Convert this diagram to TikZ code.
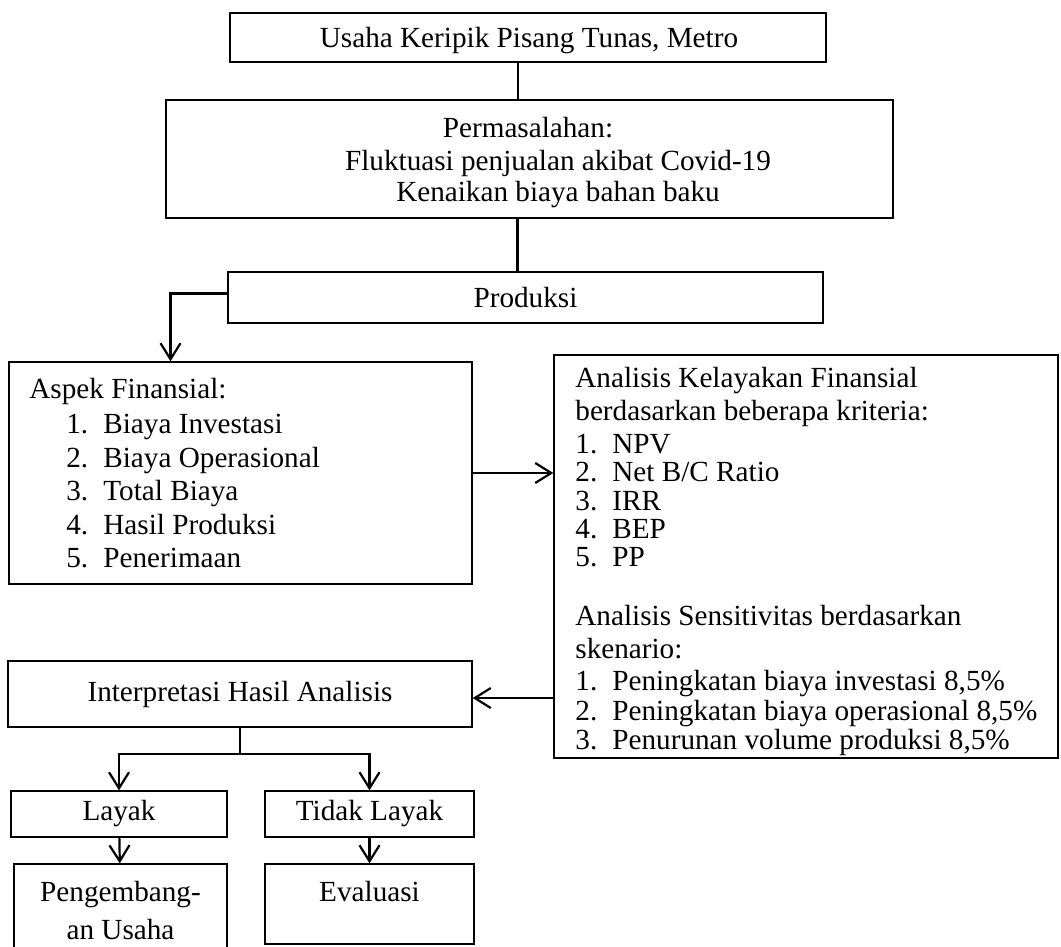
\documentclass[tikz,border=0pt]{standalone}
\usepackage{fontspec}
\setmainfont{Liberation Serif}
\usetikzlibrary{arrows.meta}

\newcommand{\butir}[1]{\makebox[18.5pt][l]{#1}}

\begin{document}
\begin{tikzpicture}[x=0.5pt, y=-0.5pt, >={Straight Barb[length=8pt,width=10pt]},
    box/.style={draw, line width=0.7pt, inner sep=0pt},
    txt/.style={inner sep=0pt},
    conn/.style={line width=1.1pt},
    every node/.append style={font=\fontsize{14.6}{16.75}\selectfont}]
    \useasboundingbox (0,0) rectangle (1061,947);

    % 1. Kotak bagian atas
    \node[box, minimum width=298pt, minimum height=24.5pt] (usaha) at (528,37.5) {};
    \node[txt] (usahatext) at (529,41) {Usaha Keripik Pisang Tunas, Metro};
    \node[box, minimum width=363.5pt, minimum height=59pt] (perm) at (529.5,159) {};
    \node[txt] (permA) at (528,128) {Permasalahan:};
    \node[txt] (permB) at (558,163) {Fluktuasi penjualan akibat Covid-19};
    \node[txt] (permC) at (558,195) {Kenaikan biaya bahan baku};
    \node[box, minimum width=297.5pt, minimum height=25.5pt] (prod) at (525.5,297.5) {Produksi};

    % 2. Aspek finansial dan kriteria analisis
    \node[box, minimum width=231.5pt, minimum height=111pt] (aspek) at (240.5,473) {};
    \node[txt, anchor=north west, align=left] (aspektext) at (29,378) {Aspek Finansial:\\[0.75pt]
        \hspace*{18.5pt}\butir{1.}Biaya Investasi\\
        \hspace*{18.5pt}\butir{2.}Biaya Operasional\\
        \hspace*{18.5pt}\butir{3.}Total Biaya\\
        \hspace*{18.5pt}\butir{4.}Hasil Produksi\\
        \hspace*{18.5pt}\butir{5.}Penerimaan};
    \node[box, minimum width=252pt, minimum height=201.5pt] (krit) at (806,556.5) {};
    \node[txt, anchor=north west, align=left, font=\fontsize{14.6}{14.15}\selectfont] (krittext) at (575,367) {Analisis Kelayakan Finansial\\[2.3pt]
        berdasarkan beberapa kriteria:\\[2.35pt]
        \butir{1.}NPV\\
        \butir{2.}Net B/C Ratio\\
        \butir{3.}IRR\\
        \butir{4.}BEP\\
        \butir{5.}PP\\[15.3pt]
        Analisis Sensitivitas berdasarkan\\[2.35pt]
        skenario:\\[1.9pt]
        \butir{1.}Peningkatan biaya investasi 8,5\%\\[0.85pt]
        \butir{2.}Peningkatan biaya operasional 8,5\%\\
        \butir{3.}Penurunan volume produksi 8,5\%};

    % 3. Interpretasi dan keputusan
    \node[box, minimum width=232pt, minimum height=33pt] (interp) at (240,694) {Interpretasi Hasil Analisis};
    \node[box, minimum width=108pt, minimum height=23pt] (layak) at (119,814) {Layak};
    \node[box, minimum width=104.5pt, minimum height=23pt] (tidak) at (369.5,814) {Tidak Layak};
    \node[box, minimum width=106.5pt, minimum height=44pt] (peng) at (120.5,908) {};
    \node[txt, align=center, font=\fontsize{14.6}{19}\selectfont] (pengtext) at (120.5,911) {Pengembang-\\an Usaha};
    \node[box, minimum width=104.5pt, minimum height=40pt] (eval) at (369.5,904) {};
    \node[txt] (evaltext) at (369.5,892) {Evaluasi};

    % 4. Garis penghubung
    \draw[conn] ([xshift=-5pt]usaha.south) -- ([xshift=-5pt]usaha.south |- perm.north);
    \draw[conn] ([xshift=-6pt]perm.south) -- ([xshift=-6pt]perm.south |- prod.north);
    \draw[->, conn] ([yshift=2pt]prod.west) -| ([xshift=-35pt]aspek.north);
    \draw[->, conn] (aspek.east) -- (aspek.east -| krit.west);
    \draw[->, conn] ([yshift=-2pt]interp.east -| krit.west) -- ([yshift=-2pt]interp.east);
    \draw[conn] (interp.south) -- ++(0,26) coordinate (split);
    \draw[->, conn] (split) -| (layak.north);
    \draw[->, conn] (split) -| (tidak.north);
    \draw[->, conn] (layak) -- (peng);
    \draw[->, conn] (tidak) -- (eval);
\end{tikzpicture}
\end{document}
